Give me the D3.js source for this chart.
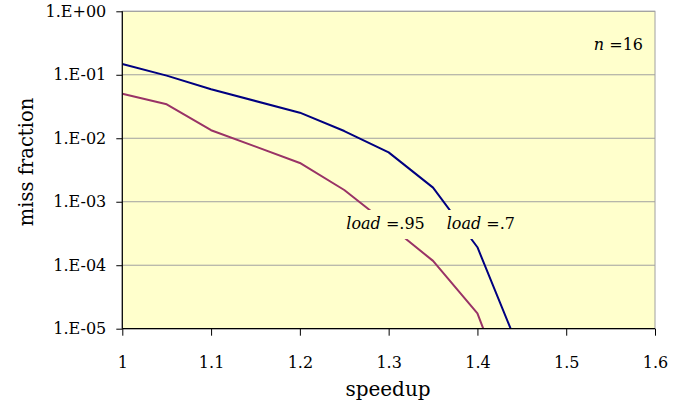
<!DOCTYPE html>
<html><head><meta charset="utf-8">
<script src="https://cdn.jsdelivr.net/npm/d3@7"></script>
<style>
body{margin:0;background:#fff;}
</style></head>
<body><svg id="c" width="697" height="404"></svg>
<script>
const speedup = [1.0, 1.05, 1.1, 1.2, 1.25, 1.3, 1.35, 1.4, 1.45];
const missLoad07  = [0.148, 0.097, 0.059, 0.0253, 0.0130, 0.0060, 0.00167, 0.000192, 0.0000037];
const missLoad095 = [0.0504, 0.0343, 0.0134, 0.00408, 0.00153, 0.00043, 0.000117, 0.0000175, 0.00000025];
const xTicks = [1, 1.1, 1.2, 1.3, 1.4, 1.5, 1.6];
const yTicks = [1, 1e-1, 1e-2, 1e-3, 1e-4, 1e-5];
const yTickLabels = ["1.E+00","1.E-01","1.E-02","1.E-03","1.E-04","1.E-05"];
const seriesColors = ["#000080","#993366"];
const FONT = "'DejaVu Serif',serif";

const svg = d3.select("#c");
const L = 122.3, R = 655, T = 11.3, B = 328.7;
const x = d3.scaleLinear().domain([1, 1.6]).range([L, R]);
const y = d3.scaleLog().domain([1e-5, 1]).range([B, T]);

svg.append("rect").attr("x", L).attr("y", T).attr("width", R - L).attr("height", B - T)
  .attr("fill", "#FFFFCC").attr("stroke", "#a0a0a0").attr("stroke-width", 1);

svg.append("g").selectAll("line").data(yTicks.slice(0, -1)).join("line")
  .attr("x1", L).attr("x2", R).attr("y1", d => y(d)).attr("y2", d => y(d))
  .attr("stroke", "#a0a0a0").attr("stroke-width", 1);

svg.append("defs").append("clipPath").attr("id", "clip")
  .append("rect").attr("x", L).attr("y", T).attr("width", R - L).attr("height", B - T);

const line = d3.line().x((d, i) => x(speedup[i])).y(d => y(d));
const gl = svg.append("g").attr("clip-path", "url(#clip)");
[missLoad07, missLoad095].forEach((s, k) => {
  gl.append("path").datum(s).attr("d", line).attr("fill", "none")
    .attr("stroke", seriesColors[k]).attr("stroke-width", 2).attr("stroke-linejoin", "round");
});

const xAxis = d3.axisBottom(x).tickValues(xTicks).tickSize(7).tickPadding(21).tickFormat(d => d === 1 ? "1" : d3.format(".1f")(d));
const gx = svg.append("g").attr("transform", `translate(0,${B})`).call(xAxis);
const yAxis = d3.axisLeft(y).tickValues(yTicks).tickSize(6).tickPadding(10).tickFormat((d, i) => yTickLabels[i]);
const gy = svg.append("g").attr("transform", `translate(${L},0)`).call(yAxis);
[gx, gy].forEach(g => {
  g.attr("font-family", FONT).attr("font-size", 16);
  g.select(".domain").attr("stroke", "#000").attr("stroke-width", 1.2);
  g.selectAll(".tick line").attr("stroke", "#000");
  g.selectAll("text").attr("fill", "#000");
});
gx.select(".domain").attr("d", `M${L},0H${R}`);
gy.select(".domain").attr("d", `M0,${T}V${B}`);

svg.append("text").attr("x", 388).attr("y", 396).attr("text-anchor", "middle")
  .attr("font-family", FONT).attr("font-size", 20).text("speedup");
svg.append("text").attr("transform", "translate(33,162) rotate(-90)").attr("text-anchor", "middle")
  .attr("font-family", FONT).attr("font-size", 19.5).text("miss fraction");

function label(xc, yb, italic, rest, w) {
  const g = svg.append("g");
  g.append("rect").attr("x", xc - w / 2).attr("y", yb - 19).attr("width", w).attr("height", 29).attr("fill", "#FFFFCC");
  const t = g.append("text").attr("x", xc).attr("y", yb).attr("text-anchor", "middle")
    .attr("font-family", FONT).attr("font-size", 16);
  t.append("tspan").attr("font-style", "italic").text(italic);
  t.append("tspan").text(rest);
}
label(385.5, 229, "load", " =.95", 80);
label(480.8, 229, "load", " =.7", 66);

const nt = svg.append("text").attr("x", 643).attr("y", 50).attr("text-anchor", "end")
  .attr("font-family", FONT).attr("font-size", 16);
nt.append("tspan").attr("font-style", "italic").text("n");
nt.append("tspan").text(" =16");
</script></body></html>
